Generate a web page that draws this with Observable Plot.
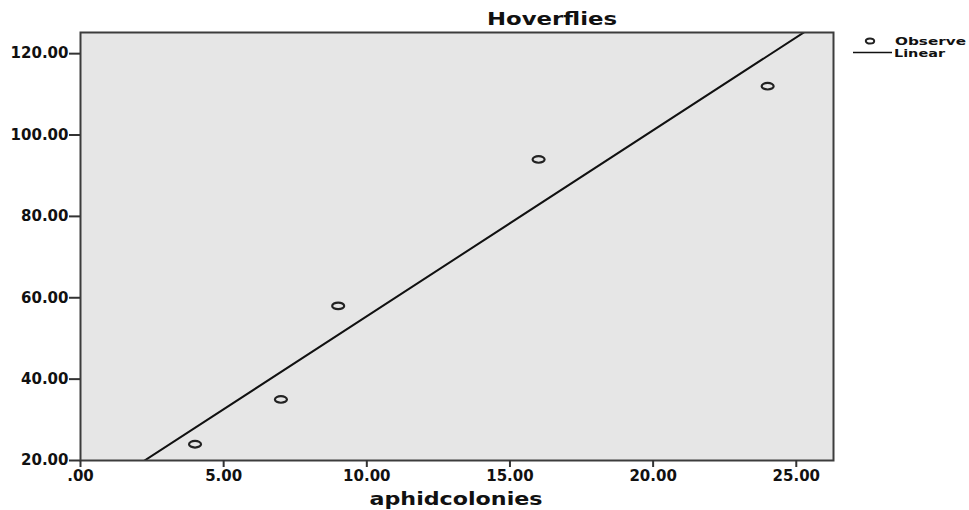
<!DOCTYPE html>
<html>
<head>
<meta charset="utf-8">
<script src="https://cdn.jsdelivr.net/npm/d3@7"></script>
<script src="https://cdn.jsdelivr.net/npm/@observablehq/plot@0.6"></script>
<style>
  html, body { margin: 0; padding: 0; background: #ffffff; }
  #chart svg { display: block; }
</style>
</head>
<body>
<div id="chart"></div>
<script>
// ---- data ----
const chartTitle = "Hoverflies";
const xLabel = "aphidcolonies";
const aphidcolonies = [4, 7, 9, 16, 24];
const hoverflies = [24, 35, 58, 94, 112];
const xTicks = [0, 5, 10, 15, 20, 25];
const yTicks = [20, 40, 60, 80, 100, 120];
const xDomain = [0, 26.3];
const yDomain = [20, 125.2];
const legendLabels = ["Observe", "Linear"];

// ---- derived ----
const points = aphidcolonies.map((x, i) => ({x, y: hoverflies[i]}));
const mx = d3.mean(aphidcolonies), my = d3.mean(hoverflies);
const sxy = d3.sum(points, d => (d.x - mx) * (d.y - my));
const sxx = d3.sum(points, d => (d.x - mx) ** 2);
const slope = sxy / sxx, intercept = my - slope * mx;
const fit = xDomain.map(x => ({x, y: intercept + slope * x}));

const fmt = d => d === 0 ? ".00" : d3.format(".2f")(d);

function ellipse(rx, ry) {
  const k = 0.5523;
  return {draw(ctx) {
    ctx.moveTo(rx, 0);
    ctx.bezierCurveTo(rx, k * ry, k * rx, ry, 0, ry);
    ctx.bezierCurveTo(-k * rx, ry, -rx, k * ry, -rx, 0);
    ctx.bezierCurveTo(-rx, -k * ry, -k * rx, -ry, 0, -ry);
    ctx.bezierCurveTo(k * rx, -ry, rx, -k * ry, rx, 0);
    ctx.closePath();
  }};
}

const font = "DejaVu Sans, Arial, sans-serif";
const ink = "#111";

const chart = Plot.plot({
  width: 969,
  height: 510,
  marginLeft: 80,
  marginRight: 136,
  marginTop: 32,
  marginBottom: 50,
  style: {fontFamily: font, color: ink, background: "#ffffff"},
  x: {domain: xDomain, label: null},
  y: {domain: yDomain, label: null},
  marks: [
    Plot.frame({fill: "#e6e6e6", stroke: null}),
    Plot.line(fit, {x: "x", y: "y", stroke: ink, strokeWidth: 2, clip: true}),
    Plot.dot(points, {x: "x", y: "y", symbol: ellipse(6, 3.3), stroke: "#222", strokeWidth: 2.2, fill: "none"}),
    Plot.frame({stroke: "#3c3c3c", strokeWidth: 2, fill: "none"}),
    Plot.axisX({ticks: xTicks, tickFormat: fmt, tickSize: 7, tickPadding: 3, fontSize: 15, fontWeight: "bold", fontFamily: font, stroke: "#333", strokeWidth: 2, label: null}),
    Plot.axisY({ticks: yTicks, tickFormat: fmt, tickSize: 11, tickPadding: 1, fontSize: 15, fontWeight: "bold", fontFamily: font, stroke: "#333", strokeWidth: 2, label: null})
  ]
});
document.getElementById("chart").appendChild(chart);

// ---- title, axis label, legend (SPSS-style, horizontally stretched text) ----
const svg = d3.select(chart);
function label(text, x, y, size, weight, len, anchor) {
  return svg.append("text")
    .attr("x", x).attr("y", y)
    .attr("text-anchor", anchor)
    .attr("font-family", font)
    .attr("font-size", size)
    .attr("font-weight", weight)
    .attr("fill", ink)
    .attr("textLength", len)
    .attr("lengthAdjust", "spacingAndGlyphs")
    .text(text);
}
label(chartTitle, 552, 25, 18, "bold", 130, "middle");
label(xLabel, 456, 505, 17, "bold", 173, "middle");

// legend
const lg = svg.append("g").attr("aria-label", "legend");
const sym = ellipse(4.2, 2.6);
const p = d3.path(); sym.draw(p);
lg.append("path").attr("d", p.toString()).attr("transform", "translate(870,41)")
  .attr("fill", "none").attr("stroke", "#222").attr("stroke-width", 2);
lg.append("line").attr("x1", 853).attr("x2", 892).attr("y1", 52.5).attr("y2", 52.5)
  .attr("stroke", ink).attr("stroke-width", 1.6);
label(legendLabels[0], 895, 45, 10, "bold", 71, "start");
label(legendLabels[1], 894, 57, 10, "bold", 51, "start");
</script>
</body>
</html>
